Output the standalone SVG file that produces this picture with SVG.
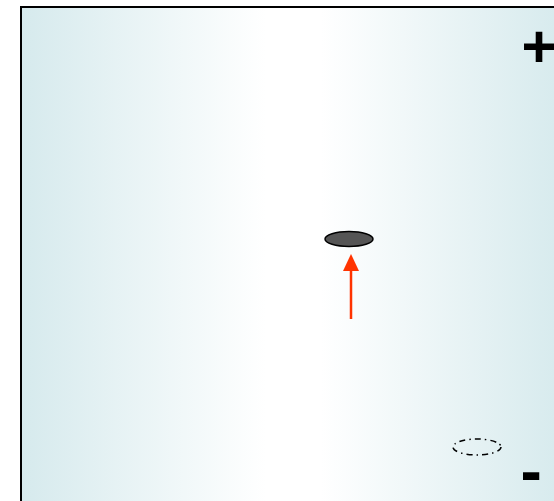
<svg xmlns="http://www.w3.org/2000/svg" width="554" height="501" viewBox="0 0 554 501">
<defs>
<linearGradient id="bg" x1="0" y1="0" x2="1" y2="0">
<stop offset="0" stop-color="#d6eaed"/>
<stop offset="0.45" stop-color="#ffffff"/>
<stop offset="0.55" stop-color="#ffffff"/>
<stop offset="1" stop-color="#d6eaed"/>
</linearGradient>
<marker id="ah" markerWidth="17" markerHeight="16" refX="0" refY="8" orient="auto" markerUnits="userSpaceOnUse" viewBox="0 0 17 16">
<path d="M0,0 L17,8 L0,16 z" fill="#ff3300"/>
</marker>
<style>
.sign{font-family:"Liberation Sans",Arial,sans-serif;font-weight:bold;fill:#000}
</style>
</defs>
<rect x="21" y="7" width="545" height="510" fill="url(#bg)" stroke="#000" stroke-width="2"/>
<g id="plus"><text class="sign" x="521.5" y="67" font-size="60">+</text></g>
<g id="minus"><text class="sign" x="520.5" y="493" font-size="64">-</text></g>
<g id="particle"><ellipse cx="349" cy="239" rx="24" ry="7.5" fill="#555555" stroke="#000" stroke-width="1.5"/></g>
<g id="ghost"><ellipse cx="477" cy="447" rx="24" ry="8" fill="none" stroke="#000" stroke-width="1.5" stroke-dasharray="6,4,1.5,4"/></g>
<g id="connectors"><line x1="351" y1="319" x2="351" y2="271" stroke="#ff3300" stroke-width="2.5" marker-end="url(#ah)"/></g>
</svg>
